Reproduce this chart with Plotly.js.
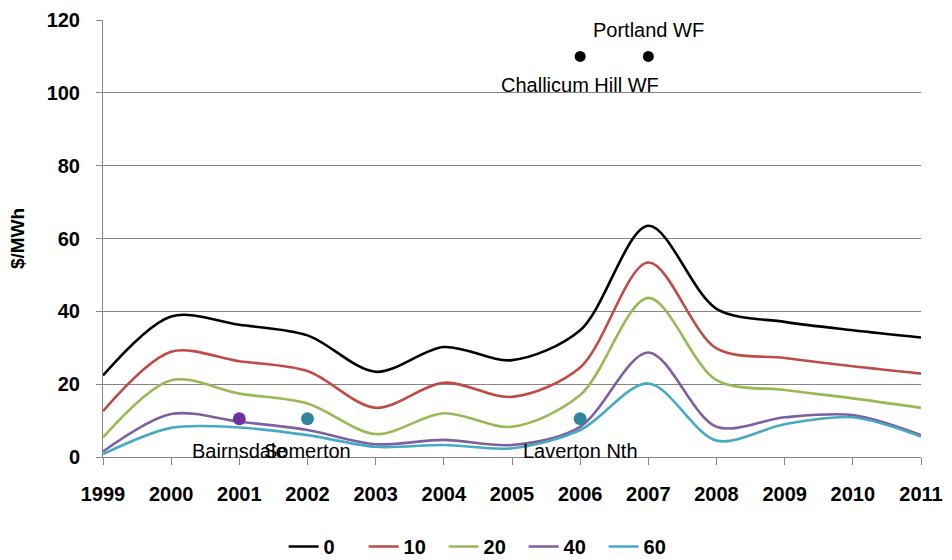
<!DOCTYPE html>
<html>
<head>
<meta charset="utf-8">
<script src="https://cdn.plot.ly/plotly-3.0.1.min.js"></script>
<style>html,body{margin:0;padding:0;background:#fff;}#chart{width:952px;height:560px;}</style>
</head>
<body>
<div id="chart"></div>
<script>
const years = [1999,2000,2001,2002,2003,2004,2005,2006,2007,2008,2009,2010,2011];
const seriesNames = ['0','10','20','40','60'];
const s0  = [22.4,38.6,36.3,33.4,23.4,30.2,26.6,34.8,63.5,40.7,37.1,34.8,32.8];
const s10 = [12.6,28.9,26.3,23.6,13.5,20.4,16.5,24.6,53.4,29.8,27.2,24.9,22.9];
const s20 = [5.4,21.1,17.4,14.7,6.3,12.0,8.3,17.0,43.7,21.1,18.4,16.1,13.5];
const s40 = [1.5,11.8,9.7,7.4,3.5,4.7,3.3,8.3,28.7,8.3,10.9,11.5,6.0];
const s60 = [0.8,8.0,8.1,6.0,2.8,3.3,2.4,7.4,20.2,4.5,9.0,10.9,5.6];
const seriesColors = ['#000000','#BE4B48','#98B954','#7D60A0','#46AAC5'];

const plantNames = ['Portland WF','Challicum Hill WF','Bairnsdale','Somerton','Laverton Nth'];
const plantX = [2007,2006,2001,2002,2006];
const plantY = [110,110,10.5,10.5,10.5];
const plantColors = ['#000000','#000000','#7030A0','#31849B','#31849B'];
const plantSizes = [11,11,13,13,13];
const plantLabelAbove = [true,false,false,false,false];

const FONT = 'Liberation Sans, Arial, sans-serif';
const allSeries = [s0,s10,s20,s40,s60];
const traces = allSeries.map((vals,i)=>({
  x: years, y: vals, name: seriesNames[i], type:'scatter', mode:'lines',
  line:{color:seriesColors[i], width:2.6, shape:'spline', smoothing:0.9},
  hoverinfo:'skip'
}));
traces.push({
  x: plantX, y: plantY, type:'scatter', mode:'markers', showlegend:false,
  marker:{color:plantColors, size:plantSizes, opacity:1, line:{width:0}}, hoverinfo:'skip'
});

const annotations = plantNames.map((n,i)=>({
  x: plantX[i], y: plantY[i], xref:'x', yref:'y', text:n, showarrow:false,
  yshift: plantLabelAbove[i] ? 26 : (plantY[i] > 50 ? -29 : -32),
  font:{family:FONT, size:20, color:'#000'}
}));

const layout = {
  width:952, height:560,
  margin:{l:103, r:31, t:20, b:103},
  paper_bgcolor:'#fff', plot_bgcolor:'#fff',
  font:{family:FONT, size:17, color:'#000'},
  showlegend:true,
  legend:{orientation:'h', x:0.508, xanchor:'center', xref:'container',
    y:0.024, yanchor:'middle', yref:'container', entrywidth:35, entrywidthmode:'pixels',
    font:{size:20, weight:'bold'}, tracegroupgap:0},
  xaxis:{range:[1999,2011], tickvals:years, ticktext:years.map(String),
    showgrid:false, zeroline:false, showline:true, linecolor:'#868686', linewidth:1,
    ticks:'outside', ticklen:7, tickcolor:'#868686', automargin:false,
    tickfont:{size:20, weight:'bold'}, ticklabelstandoff:12},
  yaxis:{range:[0,120], dtick:20, showgrid:true, gridcolor:'#868686', gridwidth:1,
    zeroline:false, showline:true, linecolor:'#868686', linewidth:1,
    ticks:'outside', ticklen:6, tickcolor:'#868686', automargin:false,
    tickfont:{size:20, weight:'bold'}, ticklabelstandoff:12,
    title:{text:'$/MWh', font:{size:19, weight:'bold'}, standoff:16}},
  annotations: annotations,
  hovermode:false
};
Plotly.newPlot('chart', traces, layout, {displayModeBar:false, staticPlot:true});
</script>
</body>
</html>
